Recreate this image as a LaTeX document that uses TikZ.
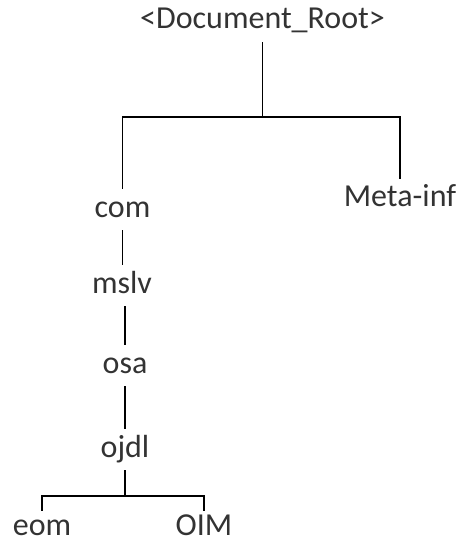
\documentclass[tikz,border=0pt]{standalone}
\usepackage{fontspec}
\setmainfont{Carlito}
\begin{document}
\begin{tikzpicture}[x=1bp,y=-1bp,
  lbl/.style={anchor=base, inner xsep=0pt, inner ysep=6bp, text height=22bp, text depth=7bp,
    font=\fontsize{32bp}{38bp}\selectfont, text=black!80},
  leaf/.style={lbl, inner ysep=2bp, text height=22bp, text depth=0bp},
  conn/.style={draw=black, line width=1.4bp}]
\useasboundingbox (0,0) rectangle (459,542);
\node[lbl] (root) at (262.5,29) {<Document\_Root>};
\node[lbl] (com) at (122.5,217) {com};
\node[lbl] (meta) at (400,207) {Meta-inf};
\node[lbl] (mslv) at (122,293) {mslv};
\node[lbl] (osa) at (125,373) {osa};
\node[lbl] (ojdl) at (125,457) {ojdl};
\node[leaf] (eom) at (42,535) {eom};
\node[leaf] (oim) at (204,535) {OIM};
\coordinate (j1) at (262.5,117);
\coordinate (j2) at (125,496);
\draw[conn] (root.south) -- (j1);
\draw[conn] (com.north) |- (j1) -| (meta.north);
\draw[conn] (com.south) -- (com.south |- mslv.north);
\draw[conn] (osa.north |- mslv.south) -- (osa.north);
\draw[conn] (osa.south) -- (ojdl.north);
\draw[conn] (ojdl.south) -- (j2);
\draw[conn] (eom.north) |- (j2) -| (oim.north);
\end{tikzpicture}
\end{document}
